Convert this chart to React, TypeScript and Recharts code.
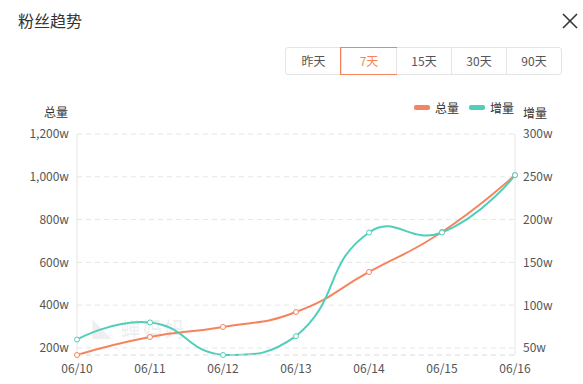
import { LineChart, Line, XAxis, YAxis, CartesianGrid } from 'recharts'

const dates = ['06/10', '06/11', '06/12', '06/13', '06/14', '06/15', '06/16']
const totalFans = [167, 251, 298, 368, 555, 742, 1008]
const newFans = [60, 80, 42, 64, 185, 185, 252]
const leftTicks = [200, 400, 600, 800, 1000, 1200]
const rightTicks = [50, 100, 150, 200, 250, 300]
const ranges = ['昨天', '7天', '15天', '30天', '90天']

const ORANGE = '#f5845e'
const TEAL = '#4fcfb9'
const FONT = '"Noto Sans CJK SC", "Noto Sans", sans-serif'

const rows = dates.map((date, i) => ({ date, total: totalFans[i], added: newFans[i] }))

// smoothing like echarts' smooth: true, control points kept inside the points' bounding box
function smoothCurve(context: any) {
  let pts: [number, number][] = []
  return {
    areaStart() {},
    areaEnd() {},
    lineStart() {
      pts = []
    },
    point(x: number, y: number) {
      pts.push([+x, +y])
    },
    lineEnd() {
      const n = pts.length
      if (!n) return
      const s = 0.5
      const xs = pts.map((p) => p[0])
      const ys = pts.map((p) => p[1])
      const minX = Math.min(...xs)
      const maxX = Math.max(...xs)
      const minY = Math.min(...ys)
      const maxY = Math.max(...ys)
      const cx = (v: number) => Math.min(maxX, Math.max(minX, v))
      const cy = (v: number) => Math.min(maxY, Math.max(minY, v))
      context.moveTo(pts[0][0], pts[0][1])
      let cx0 = pts[0][0]
      let cy0 = pts[0][1]
      for (let i = 1; i < n; i++) {
        const [x, y] = pts[i]
        const [px, py] = pts[i - 1]
        const last = i === n - 1
        const [nx, ny] = last ? pts[i] : pts[i + 1]
        const vx = nx - px
        const vy = ny - py
        const d0 = Math.hypot(x - px, y - py)
        const d1 = Math.hypot(nx - x, ny - y)
        const r = d0 + d1 > 0 ? d1 / (d0 + d1) : 0.5
        const c1x = last ? x : cx(x - vx * s * (1 - r))
        const c1y = last ? y : cy(y - vy * s * (1 - r))
        context.bezierCurveTo(cx0, cy0, c1x, c1y, x, y)
        cx0 = cx(x + vx * s * r)
        cy0 = cy(y + vy * s * r)
      }
    },
  }
}

const fmt = (v: number) => `${v.toLocaleString('en-US')}w`

function LegendBox() {
  const items = [
    { name: '总量', color: ORANGE },
    { name: '增量', color: TEAL },
  ]
  return (
    <div style={{ display: 'flex', alignItems: 'center', fontSize: 12, color: '#333', fontFamily: FONT }}>
      {items.map((it) => (
        <div key={it.name} style={{ display: 'flex', alignItems: 'center', marginRight: 10 }}>
          <span style={{ width: 16, height: 5, borderRadius: 2, background: it.color, marginRight: 5 }} />
          <span>{it.name}</span>
        </div>
      ))}
    </div>
  )
}

export default function App() {
  return (
    <div
      style={{
        position: 'absolute',
        left: 0,
        top: 0,
        width: 583,
        height: 384,
        background: '#fff',
        fontFamily: FONT,
        overflow: 'hidden',
      }}
    >
      <div style={{ position: 'absolute', left: 18, top: 8, fontSize: 16, color: '#333' }}>粉丝趋势</div>
      <svg style={{ position: 'absolute', left: 562, top: 13 }} width={16} height={16}>
        <line x1={1} y1={1} x2={15} y2={15} stroke="#333" strokeWidth={1.6} />
        <line x1={15} y1={1} x2={1} y2={15} stroke="#333" strokeWidth={1.6} />
      </svg>
      <div
        style={{
          position: 'absolute',
          left: 285,
          top: 47,
          display: 'flex',
          border: '1px solid #e4e4e4',
          borderRadius: 3,
          height: 26,
        }}
      >
        {ranges.map((r, i) => (
          <div
            key={r}
            style={{
              width: 55,
              height: 26,
              lineHeight: '26px',
              textAlign: 'center',
              fontSize: 12,
              color: r === '7天' ? ORANGE : '#555',
              borderLeft: i === 0 ? 'none' : '1px solid #e4e4e4',
              outline: r === '7天' ? `1px solid ${ORANGE}` : 'none',
              boxSizing: 'border-box',
              position: 'relative',
            }}
          >
            {r}
          </div>
        ))}
      </div>
      <div style={{ position: 'absolute', left: 44, top: 103, fontSize: 12, color: '#333' }}>总量</div>
      <div style={{ position: 'absolute', left: 523, top: 104, fontSize: 12, color: '#333' }}>增量</div>
      <div style={{ position: 'absolute', left: 414, top: 99 }}>
        <LegendBox />
      </div>
      <div
        style={{
          position: 'absolute',
          left: 92,
          top: 314,
          fontSize: 20,
          fontWeight: 700,
          color: 'rgba(0,0,0,0.06)',
          letterSpacing: 2,
        }}
      >
        ◣ 蝉妈妈
      </div>
      <div style={{ position: 'absolute', left: 0, top: 0 }}>
        <LineChart width={583} height={384} data={rows} margin={{ top: 134, right: 0, bottom: 0, left: 0 }}>
          <CartesianGrid yAxisId="left" vertical={false} stroke="#e6e6e6" strokeDasharray="5 4" />
          <XAxis
            dataKey="date"
            height={29}
            tickLine={false}
            axisLine={{ stroke: '#e6e6e6', strokeDasharray: '5 4' }}
            tickSize={0}
            tickMargin={9}
            interval={0}
            tick={{ fill: '#555', fontSize: 12 }}
          />
          <YAxis
            yAxisId="left"
            width={77}
            domain={[167, 1200]}
            ticks={leftTicks}
            tickFormatter={fmt}
            tickLine={false}
            axisLine={{ stroke: '#e6e6e6' }}
            tickSize={0}
            tickMargin={8}
            tick={{ fill: '#555', fontSize: 12 }}
          />
          <YAxis
            yAxisId="right"
            orientation="right"
            width={68}
            domain={[42, 300]}
            ticks={rightTicks}
            tickFormatter={(v: number) => `${v}w`}
            tickLine={false}
            axisLine={{ stroke: '#e6e6e6' }}
            tickSize={0}
            tickMargin={8}
            tick={{ fill: '#555', fontSize: 12, textAnchor: 'start' }}
          />
          <Line
            yAxisId="left"
            dataKey="total"
            name="总量"
            type={smoothCurve as any}
            stroke={ORANGE}
            strokeWidth={2}
            dot={{ r: 2.5, fill: '#fff', stroke: ORANGE, strokeWidth: 1 }}
            activeDot={false}
            isAnimationActive={false}
          />
          <Line
            yAxisId="right"
            dataKey="added"
            name="增量"
            type={smoothCurve as any}
            stroke={TEAL}
            strokeWidth={2}
            dot={{ r: 2.5, fill: '#fff', stroke: TEAL, strokeWidth: 1 }}
            activeDot={false}
            isAnimationActive={false}
          />
        </LineChart>
      </div>
    </div>
  )
}
